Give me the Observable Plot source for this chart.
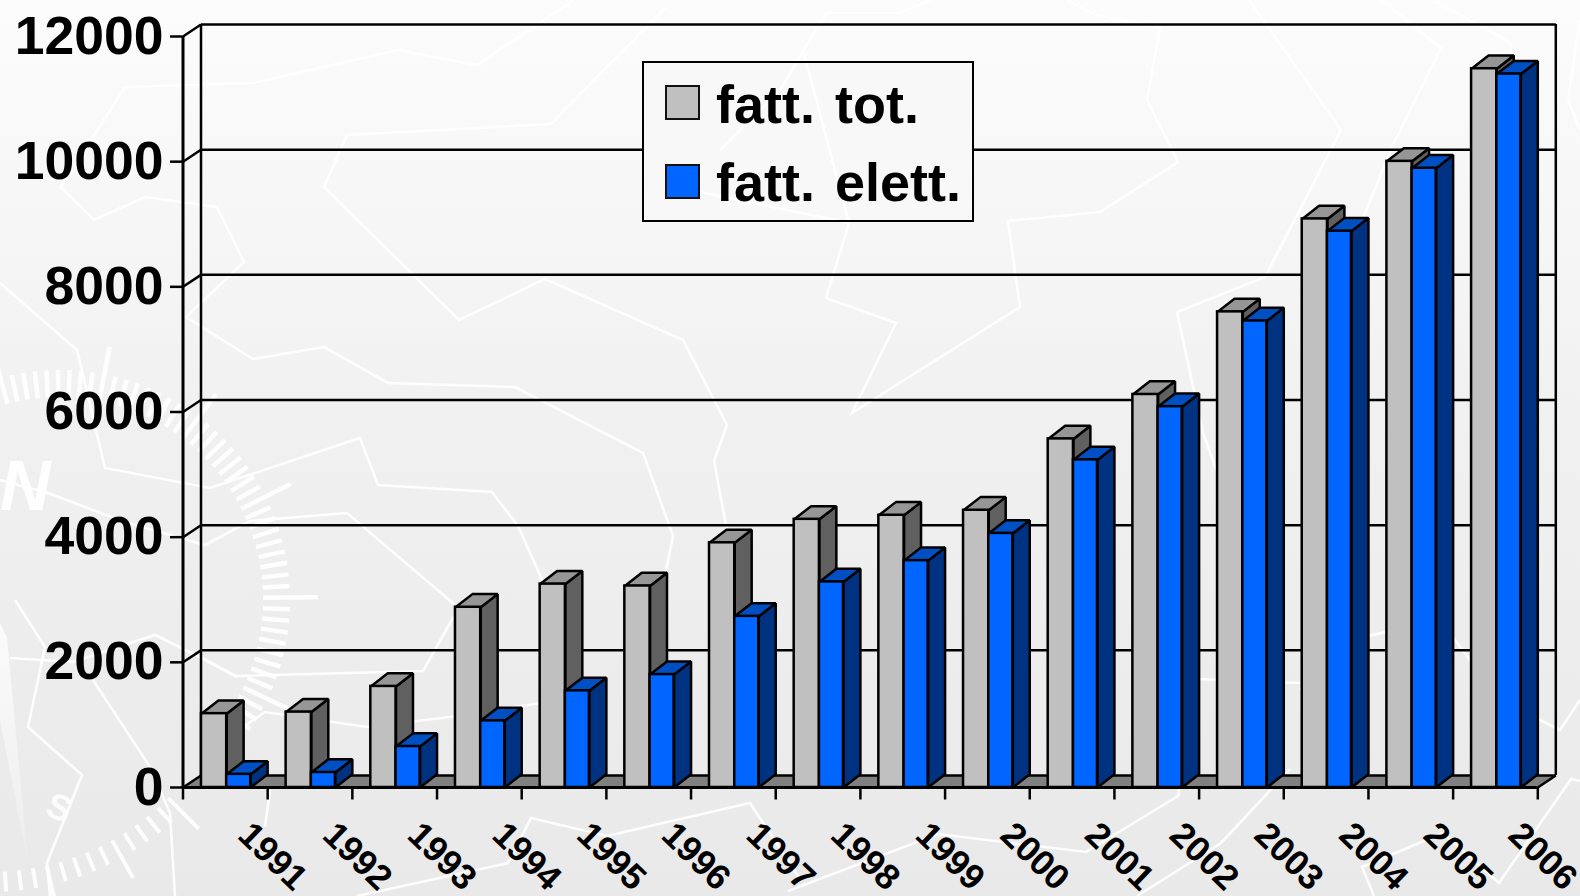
<!DOCTYPE html>
<html>
<head>
<meta charset="utf-8">
<script src="https://cdn.jsdelivr.net/npm/d3@7"></script>
<script src="https://cdn.jsdelivr.net/npm/@observablehq/plot@0.6"></script>
<style>
  html, body { margin: 0; padding: 0; width: 1580px; height: 896px; overflow: hidden; }
  body { position: relative; background: linear-gradient(#fcfcfc 0%, #f0f0f0 50%, #e9e9e9 100%); font-family: "Liberation Sans", Arial, sans-serif; }
  #bg, #chart { position: absolute; left: 0; top: 0; width: 1580px; height: 896px; }
  #chart svg { position: absolute; left: 0; top: 0; background: transparent; overflow: visible; max-width: none; }
  #legend { position: absolute; left: 642px; top: 61px; width: 328px; height: 157px; border: 2.5px solid #000; background: #f8f8f8; overflow: hidden; }
  #legend svg.lines { position: absolute; left: -644px; top: -63px; }
  .sw { position: absolute; left: 21px; width: 31px; height: 31px; border: 2.5px solid #111; }
  .lb { position: absolute; left: 72px; font: bold 54px "Liberation Sans", Arial, sans-serif; line-height: 62px; white-space: pre; color: #000; word-spacing: 5px; }
</style>
</head>
<body>
<svg id="bg" width="1580" height="896"></svg>
<div id="chart"></div>
<div id="legend">
  <div class="sw" style="top:22px;background:#c0c0c0"></div>
  <div class="lb" style="top:10px">fatt. tot.</div>
  <div class="sw" style="top:101px;background:#0066ff"></div>
  <div class="lb" style="top:88px">fatt. elett.</div>
</div>
<script>
const years = [1991,1992,1993,1994,1995,1996,1997,1998,1999,2000,2001,2002,2003,2004,2005,2006];
const fattTot = [1180,1205,1615,2880,3250,3220,3910,4285,4350,4430,5570,6280,7600,9085,10005,11485];
const fattElett = [210,240,655,1065,1545,1805,2735,3285,3625,4060,5235,6085,7455,8890,9895,11400];
const yTicks = [0,2000,4000,6000,8000,10000,12000];

// Faint decorative map lines of the slide background
const bgLines = [
  [[574,0],[477,65],[398,50],[253,83],[125,87],[61,187],[94,220],[145,197],[217,207],[244,262],[186,317],[253,359],[324,347],[388,383],[515,387],[643,453],[673,536],[660,600]],
  [[666,7],[551,124],[347,135],[324,187],[459,320],[545,279],[683,340],[727,425],[714,461],[725,520],[735,560]],
  [[0,283],[77,350],[105,468],[210,488],[360,438],[378,485],[492,492],[518,526],[560,620]],
  [[0,480],[48,493],[122,521],[205,545],[250,521],[347,513],[454,604]],
  [[204,659],[235,676],[423,671],[454,616]],
  [[15,600],[45,647],[28,727],[82,775],[47,863],[50,896]],
  [[93,680],[150,767],[170,813],[175,896]],
  [[10,658],[73,662],[155,635],[200,657],[237,677]],
  [[243,727],[265,712],[367,727],[450,717],[560,700]],
  [[270,790],[265,827]],
  [[357,896],[508,863],[531,818],[607,836],[750,803],[800,879]],
  [[788,891],[938,834],[1086,852],[1178,796],[1196,679],[1300,683]],
  [[1137,896],[1221,843],[1290,769]],
  [[1374,896],[1362,867],[1443,833],[1499,883],[1571,779],[1580,781]],
  [[930,0],[900,13],[826,13],[780,90],[720,150]],
  [[1066,0],[1096,15],[1160,28],[1147,100],[1178,162],[1100,212],[1008,221],[1020,307],[852,413],[896,323],[826,298],[849,223],[803,50]],
  [[849,223],[701,192]],
  [[1249,0],[1341,130],[1265,277],[1177,312],[1203,433],[1220,480]],
  [[1382,0],[1441,48],[1392,147],[1330,300]],
  [[1433,0],[1510,42],[1515,80]],
  [[1580,20],[1568,100],[1580,130]],
  [[1300,690],[1350,640],[1440,620],[1500,700],[1560,730],[1580,700]]
];
const bg = d3.select("#bg");
const defs = bg.append("defs");
const grad = defs.append("linearGradient").attr("id","wedge").attr("x1",0).attr("x2",0).attr("y1",0).attr("y2",1);
grad.append("stop").attr("offset",0).attr("stop-color","#fff").attr("stop-opacity",.75);
grad.append("stop").attr("offset",1).attr("stop-color","#fff").attr("stop-opacity",.15);
bg.append("path").attr("d","M0,623L7,637L28,863L0,720Z").attr("fill","url(#wedge)");
const lineGroup = bg.append("g").attr("fill","none").attr("stroke","#fff").attr("stroke-width",2.6).attr("stroke-opacity",.9);
bgLines.forEach(p => lineGroup.append("path").attr("d", d3.line()(p)));
function arc(cx, cy, r0, rShort, rLong, a0, a1, step, every, width) {
  const g = bg.append("g").attr("stroke","#fff").attr("stroke-width",width).attr("stroke-opacity",.9);
  let k = 0;
  for (let a = a0; a <= a1; a += step, k++) {
    const t = a*Math.PI/180, r1 = k % every === 0 ? rLong : rShort;
    g.append("line").attr("x1",cx+r0*Math.cos(t)).attr("y1",cy+r0*Math.sin(t))
      .attr("x2",cx+r1*Math.cos(t)).attr("y2",cy+r1*Math.sin(t));
  }
}
arc(60,600,203,230,258,-105,38,2.9,9,4.5);
arc(-10,620,252,272,295,45,100,3.2,5,4);
bg.append("text").attr("x",0).attr("y",510).attr("font-size",70).attr("font-weight","bold").attr("font-style","italic")
  .attr("font-family","Liberation Sans").attr("fill","#fff").attr("fill-opacity",.9).text("N");
bg.append("text").attr("transform","translate(44,815) rotate(20)").attr("font-size",36).attr("font-weight","bold")
  .attr("font-family","Liberation Sans").attr("fill","#fff").attr("fill-opacity",.9).text("S");

// 3D depth, in data units of the x and y scales: walls and floor, then the bars
const DX = 0.2126, DY = 191.7;
const BDX = 0.2, BDY = 210;
const X0 = 1990.5, X1 = 2006.5;
const fontFamily = "Liberation Sans, Arial, sans-serif";
const bars = (values, a, b) => values.map((v, i) => ({x1: years[i]-0.5+a, x2: years[i]-0.5+b, v}));
const grayBars = bars(fattTot, 0.218, 0.516);
const blueBars = bars(fattElett, 0.516, 0.8);

const poly = (rows, pts) => rows.flatMap((r, id) => pts(r).map(([x,y]) => ({id, x, y})));
const topFace = r => [[r.x1,r.v],[r.x2,r.v],[r.x2+BDX,r.v+BDY],[r.x1+BDX,r.v+BDY]];
const sideFace = r => [[r.x2,0],[r.x2,r.v],[r.x2+BDX,r.v+BDY],[r.x2+BDX,BDY]];
const face = (rows, pts, fill) => Plot.line(poly(rows, pts), {x:"x", y:"y", z:"id", fill, stroke:"#000", strokeWidth:2.5, curve:"linear-closed", strokeLinejoin:"miter"});
const box = (rows, cTop, cSide, cFront) => [
  face(rows, sideFace, cSide),
  face(rows, topFace, cTop),
  Plot.rectY(rows, {x1:"x1", x2:"x2", y1:0, y2:"v", fill:cFront, stroke:"#000", strokeWidth:2.5})
];
const floor = [[X0,0],[X1,0],[X1+DX,DY],[X0+DX,DY]].map(([x,y]) => ({x,y}));

const plot = Plot.plot({
  width: 1580, height: 896,
  marginLeft: 182.5, marginRight: 42.7, marginTop: 36, marginBottom: 109,
  x: {type:"linear", domain:[X0,X1], axis:null},
  y: {domain:[0,12000], axis:null},
  style: {background:"transparent"},
  marks: [
    Plot.line(floor, {x:"x", y:"y", fill:"#808080", stroke:"none", curve:"linear-closed"}),
    Plot.ruleX([X0+DX, X1+DX], {y1:DY, y2:12000+DY, stroke:"#000", strokeWidth:2.5}),
    Plot.link(yTicks, {x1:X0+DX, x2:X1+DX, y1:d=>d+DY, y2:d=>d+DY, stroke:"#000", strokeWidth:2.5}),
    Plot.link(yTicks, {x1:X0, x2:X0+DX, y1:d=>d, y2:d=>d+DY, stroke:"#000", strokeWidth:2.5}),
    Plot.link([0], {x1:X1, x2:X1+DX, y1:0, y2:DY, stroke:"#000", strokeWidth:2.5}),
    ...box(grayBars, "#969696", "#606060", "#c0c0c0"),
    ...box(blueBars, "#0050c4", "#003282", "#0066ff"),
    Plot.ruleX([X0], {y1:0, y2:12000, stroke:"#000", strokeWidth:3}),
    Plot.ruleY([0], {x1:X0, x2:X1, stroke:"#000", strokeWidth:3}),
    Plot.axisY({ticks:yTicks, anchor:"left", tickSize:12.5, tickPadding:7, tickFormat:d3.format("d"), label:null,
      fontSize:53.5, fontWeight:"bold", fontFamily, fill:"#000", stroke:"#000", strokeWidth:2.5}),
    Plot.axisX({ticks:[X0, ...years.map(y=>y+0.5)], anchor:"bottom", tickSize:12.5, tickFormat:()=>"", label:null, stroke:"#000", strokeWidth:2.5}),
    Plot.text(years, {x:d=>d+0.5, y:()=>0, text:d=>String(d), rotate:44, dx:5, dy:69, fontSize:35.5, fontWeight:"bold", fontFamily, fill:"#000"})
  ]
});
document.getElementById("chart").appendChild(plot);

// The background lines stay visible through the legend panel
const legendLines = d3.select("#legend").insert("svg", ":first-child").attr("class","lines").attr("width",1580).attr("height",896);
legendLines.node().appendChild(lineGroup.node().cloneNode(true));
</script>
</body>
</html>
